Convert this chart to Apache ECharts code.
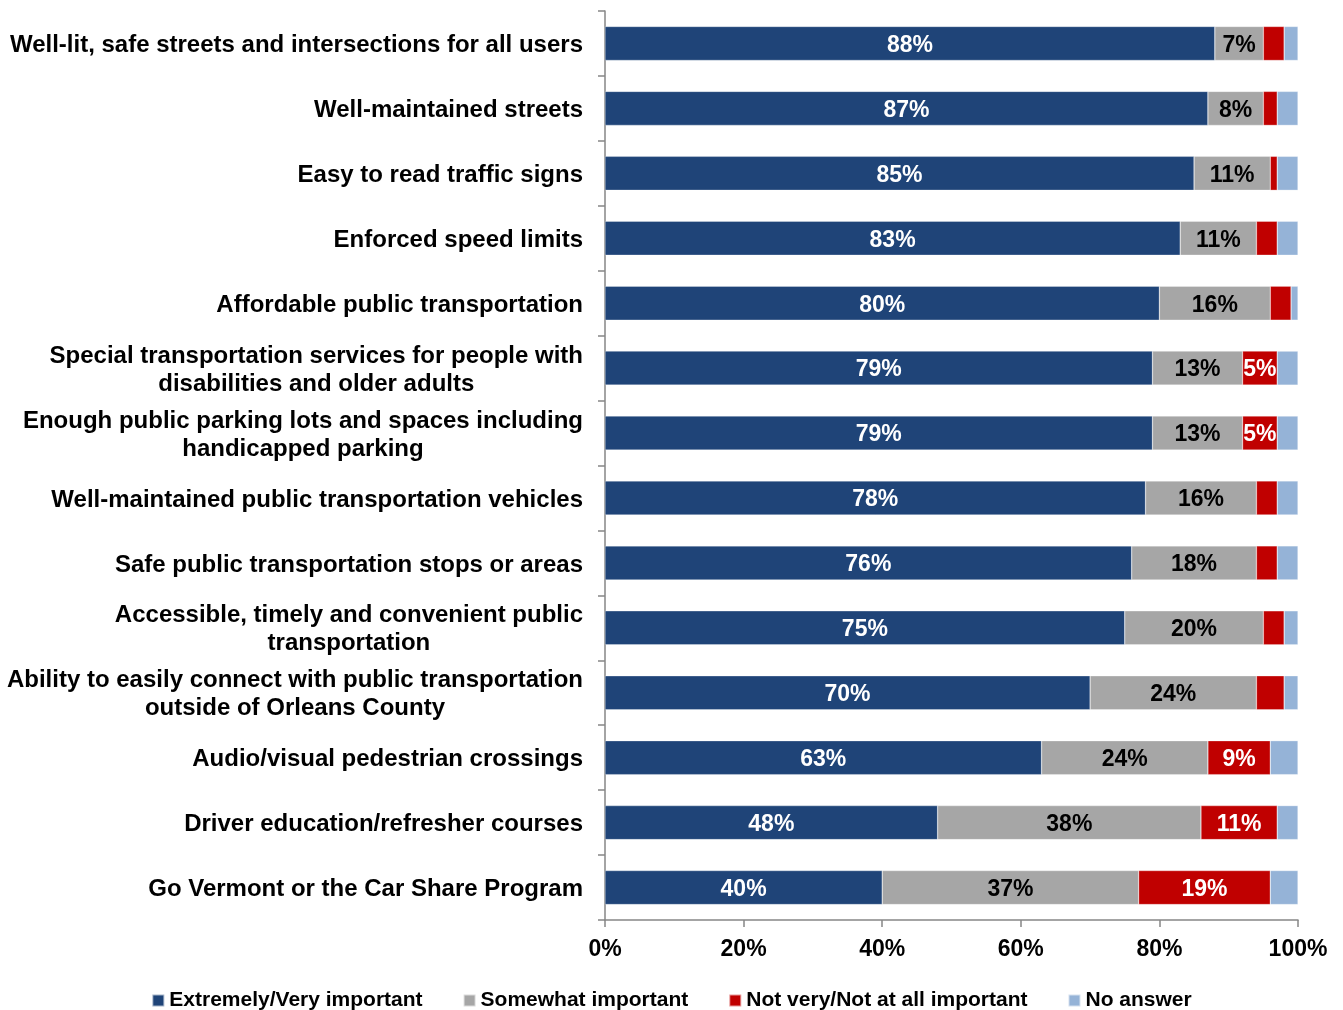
<!DOCTYPE html>
<html>
<head>
<meta charset="utf-8">
<script src="https://cdn.jsdelivr.net/npm/echarts@6/dist/echarts.min.js"></script>
<style>
  html, body { margin: 0; padding: 0; background: #fff; }
  #chart { width: 1343px; height: 1010px; }
</style>
</head>
<body>
<div id="chart"></div>
<script>
// categories, top to bottom as in the picture
var categories = [
    'Well-lit, safe streets and intersections for all users',
    'Well-maintained streets',
    'Easy to read traffic signs',
    'Enforced speed limits',
    'Affordable public transportation',
    'Special transportation services for people with\ndisabilities and older adults',
    'Enough public parking lots and spaces including\nhandicapped parking',
    'Well-maintained public transportation vehicles',
    'Safe public transportation stops or areas',
    'Accessible, timely and convenient public\ntransportation',
    'Ability to easily connect with public transportation\noutside of Orleans County',
    'Audio/visual pedestrian crossings',
    'Driver education/refresher courses',
    'Go Vermont or the Car Share Program'
];

var veryImportant = [88, 87, 85, 83, 80, 79, 79, 78, 76, 75, 70, 63, 48, 40];
var somewhat      = [7, 8, 11, 11, 16, 13, 13, 16, 18, 20, 24, 24, 38, 37];
var notImportant  = [3, 2, 1, 3, 3, 5, 5, 3, 3, 3, 4, 9, 11, 19];
var noAnswer      = [2, 3, 3, 3, 1, 3, 3, 3, 3, 2, 2, 4, 3, 4];

var xTicks = [0, 20, 40, 60, 80, 100];

var font = 'Liberation Sans, Arial, sans-serif';

function seg(name, data, color, labelColor, minLabel) {
    return {
        name: name,
        type: 'bar',
        stack: 'all',
        data: data,
        barWidth: 34,
        itemStyle: { color: color, borderColor: 'rgba(255,255,255,0.6)', borderWidth: 0.5 },
        label: {
            show: minLabel != null,
            position: 'inside',
            offset: [0, 2],
            color: labelColor,
            fontFamily: font,
            fontWeight: 'bold',
            fontSize: 23,
            formatter: function (p) {
                return p.value >= minLabel ? p.value + '%' : '';
            }
        },
        emphasis: { disabled: true }
    };
}

var chart = echarts.init(document.getElementById('chart'));

chart.setOption({
    animation: false,
    backgroundColor: '#fff',
    grid: { left: 605, right: 45, top: 11, bottom: 90, containLabel: false },
    legend: {
        top: 985,
        left: 'center',
        itemWidth: 12,
        itemHeight: 12,
        itemGap: 40,
        icon: 'rect',
        textStyle: { fontFamily: font, fontWeight: 'bold', fontSize: 21, color: '#000' },
        data: ['Extremely/Very important', 'Somewhat important', 'Not very/Not at all important', 'No answer']
    },
    xAxis: {
        type: 'value',
        min: xTicks[0],
        max: xTicks[xTicks.length - 1],
        interval: 20,
        axisLine: { show: true, lineStyle: { color: '#868686', width: 1.5 } },
        axisTick: { show: true, length: 7, lineStyle: { color: '#868686', width: 1.5 } },
        splitLine: { show: false },
        axisLabel: {
            margin: 18,
            fontFamily: font,
            fontWeight: 'bold',
            fontSize: 23,
            color: '#000',
            formatter: '{value}%'
        }
    },
    yAxis: {
        type: 'category',
        inverse: true,
        data: categories,
        axisLine: { show: true, lineStyle: { color: '#868686', width: 1.5 } },
        axisTick: { show: true, length: 7, lineStyle: { color: '#868686', width: 1.5 } },
        axisLabel: {
            margin: 22,
            align: 'right',
            padding: [4, 0, 0, 0],
            // wrap each line so multi-line labels are centred under each other
            formatter: function (v) {
                return v.split('\n').map(function (l) { return '{c|' + l + '}'; }).join('\n');
            },
            rich: {
                c: {
                    align: 'center',
                    fontFamily: font,
                    fontWeight: 'bold',
                    fontSize: 24,
                    lineHeight: 28,
                    color: '#000'
                }
            }
        }
    },
    series: [
        seg('Extremely/Very important', veryImportant, '#1F4478', '#fff', 0),
        seg('Somewhat important', somewhat, '#A6A6A6', '#000', 0),
        seg('Not very/Not at all important', notImportant, '#C00000', '#fff', 5),
        seg('No answer', noAnswer, '#95B3D7', '#000', null)
    ]
});
</script>
</body>
</html>
